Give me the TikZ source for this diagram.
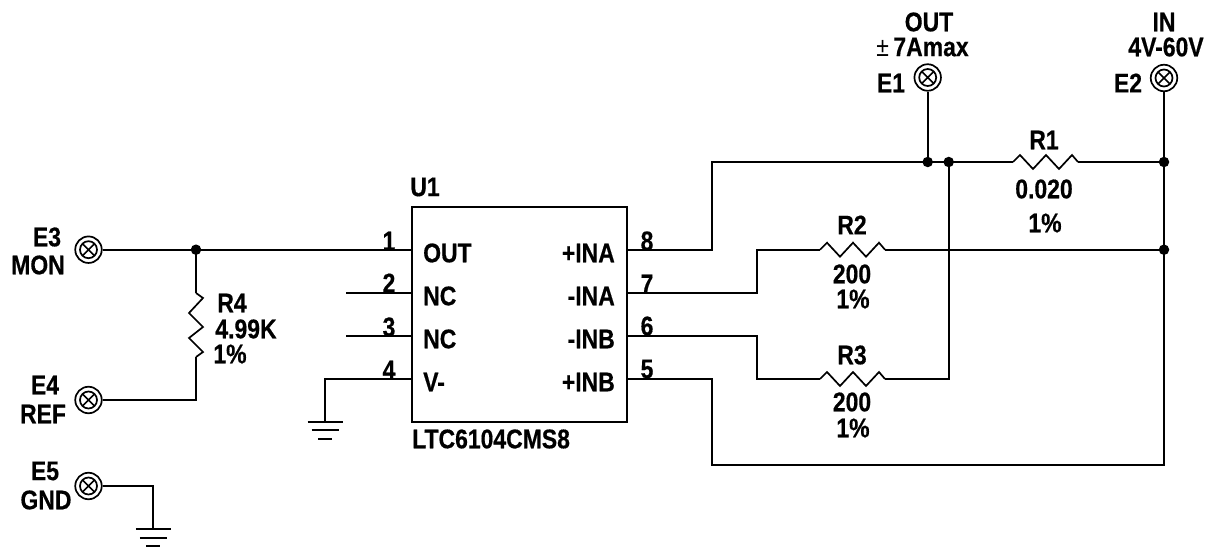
\documentclass[tikz,border=0pt]{standalone}
\usepackage{fontspec}
\setmainfont{Liberation Sans}[FakeStretch=0.85,BoldFeatures={FakeBold=0.5}]
\usetikzlibrary{calc}
\tikzset{
  wire/.style={line width=2.1pt,line join=miter},
  lbl/.style={inner sep=0pt,font=\fontsize{27}{27}\selectfont\bfseries,anchor=center},
  lbll/.style={lbl,anchor=west},
  lblr/.style={lbl,anchor=east},
  term/.style={circle,draw,line width=1.7pt,minimum size=26.5pt,inner sep=0pt,fill=white},
  dot/.style={circle,fill=black,minimum size=10.5pt,inner sep=0pt},
  pics/terminner/.style={code={
    \draw[line width=1.7pt] (0,0) circle[radius=8.5];
    \draw[line width=1.5pt] (-6,-6)--(6,6) (-6,6)--(6,-6);}},
  pics/gnd/.style={code={
    \draw[line width=2pt] (-17.5,0)--(17.5,0) (-13.5,8.5)--(13.5,8.5) (-7,17)--(7,17);}},
}
\newcommand{\hres}[2]{% horizontal resistor between two named coordinates
  \draw[wire,line width=1.7pt] (#1) -- ++(7,-7) -- ++(13,14) -- ++(13,-14) -- ++(13,14) -- ++(13,-14) -- (#2);}
\begin{document}
\begin{tikzpicture}[x=1pt,y=-1pt]
\useasboundingbox (0,0) rectangle (1205,548);
% chip
\node[draw,line width=2pt,minimum width=215pt,minimum height=215pt,inner sep=0pt] (U) at (519.2,314.2) {};
% terminals
\node[term] (E1) at (927.7,77.5) {};
\node[term] (E2) at (1164,78) {};
\node[term] (E3) at (88.5,249.7) {};
\node[term] (E4) at (88.5,400) {};
\node[term] (E5) at (88.5,486) {};
\foreach \t in {E1,E2,E3,E4,E5} \path (\t) pic {terminner};
% coordinates
\coordinate (p1) at (411.7,250);
\coordinate (p2) at (411.7,293);
\coordinate (p3) at (411.7,336);
\coordinate (p4) at (411.7,379);
\coordinate (p8) at (626.7,250);
\coordinate (p7) at (626.7,293);
\coordinate (p6) at (626.7,336);
\coordinate (p5) at (626.7,379);
\coordinate (n2) at (346,293);
\coordinate (n3) at (346,336);
\coordinate (g1) at (325,421.7);
\coordinate (g2) at (153.3,529);
\coordinate (r1a) at (1013,162);
\coordinate (r1b) at (1078,162);
\coordinate (r2a) at (820,249.7);
\coordinate (r2b) at (885,249.7);
\coordinate (r3a) at (820,379);
\coordinate (r3b) at (885,379);
\coordinate (r4a) at (196,293);
\coordinate (r4b) at (196,357);
% junctions
\node[dot] (j1) at (927.7,162) {};
\node[dot] (j2) at (948.7,162) {};
\node[dot] (j3) at (1164,162) {};
\node[dot] (j4) at (1164,249.7) {};
\node[dot] (j5) at (196,249.7) {};
% wires
\draw[wire] (E1.south) -- (j1.center);
\draw[wire] (E2.south) -- (j3.center) -- (j4.center);
\draw[wire] (j4.center) -- (1164,465) -- (712,465) -- (712,379) -- (p5);
\draw[wire] (p8) -- (712,250) -- (712,162) -- (j1.center) -- (j2.center) -- (r1a);
\draw[wire] (r1b) -- (j3.center);
\draw[wire] (j2.center) -- (948.7,379) -- (r3b);
\draw[wire] (r2b) -- (j4.center);
\draw[wire] (p7) -- (757,293) -- (757,249.7) -- (r2a);
\draw[wire] (p6) -- (757,336) -- (757,379) -- (r3a);
\draw[wire] (E3.east) -- (j5.center) -- (196,250) -- (p1);
\draw[wire] (j5.center) -- (r4a);
\draw[wire] (r4b) -- (196,400) -- (E4.east);
\draw[wire] (n2) -- (p2);
\draw[wire] (n3) -- (p3);
\draw[wire] (p4) -- (325,379) -- (g1);
\draw[wire] (E5.east) -- (153.3,486) -- (g2);
\path (g1) pic {gnd};
\path (g2) pic {gnd};
% resistors
\hres{r1a}{r1b}
\hres{r2a}{r2b}
\hres{r3a}{r3b}
\draw[wire,line width=1.7pt] (r4a) -- ++(7,5) -- ++(-14,15) -- ++(14,14) -- ++(-14,11) -- ++(14,14) -- (r4b);
% labels
\node[lbl] (tOut) at (929,22) {OUT};
\node[lbl] (tAmax) at (922.5,47) {{\mdseries ±}\,7Amax};
\node[lbl] (tIn) at (1164,22) {IN};
\node[lbl] (tV) at (1166,47) {4V-60V};
\node[lbl] (tE1) at (891,83) {E1};
\node[lbl] (tE2) at (1128,83) {E2};
\node[lbl] (tE3) at (47,237) {E3};
\node[lbl] (tMon) at (38,265) {MON};
\node[lbl] (tE4) at (45,385) {E4};
\node[lbl] (tRef) at (43,414) {REF};
\node[lbl] (tE5) at (45,471) {E5};
\node[lbl] (tGnd) at (46,500) {GND};
\node[lbl] (tR1) at (1044,140) {R1};
\node[lbl] (tR1v) at (1044,189) {0.020};
\node[lbl] (tR1t) at (1045,223) {1\%};
\node[lbl] (tR2) at (852,225) {R2};
\node[lbl] (tR2v) at (852,274) {200};
\node[lbl] (tR2t) at (853,299) {1\%};
\node[lbl] (tR3) at (852,355) {R3};
\node[lbl] (tR3v) at (852,402) {200};
\node[lbl] (tR3t) at (853,428) {1\%};
\node[lbl] (tR4) at (232,303) {R4};
\node[lbl] (tR4v) at (246,329) {4.99K};
\node[lbl] (tR4t) at (230,354) {1\%};
\node[lbl] (tU1) at (425,187) {U1};
\node[lbll] (tPart) at (412,439) {LTC6104CMS8};
\node[lbll] (a1) at (423,253) {OUT};
\node[lbll] (a2) at (423,296) {NC};
\node[lbll] (a3) at (423,339) {NC};
\node[lbll] (a4) at (423,382) {V-};
\node[lblr] (a8) at (615,253) {+INA};
\node[lblr] (a7) at (615,296) {-INA};
\node[lblr] (a6) at (615,339) {-INB};
\node[lblr] (a5) at (615,382) {+INB};
\node[lbl] (n1t) at (389,241) {1};
\node[lbl] (n2t) at (389,283) {2};
\node[lbl] (n3t) at (389,327) {3};
\node[lbl] (n4t) at (389,370) {4};
\node[lbl] (n8t) at (647,241) {8};
\node[lbl] (n7t) at (647,284) {7};
\node[lbl] (n6t) at (647,326) {6};
\node[lbl] (n5t) at (647,369) {5};
\end{tikzpicture}
\end{document}
